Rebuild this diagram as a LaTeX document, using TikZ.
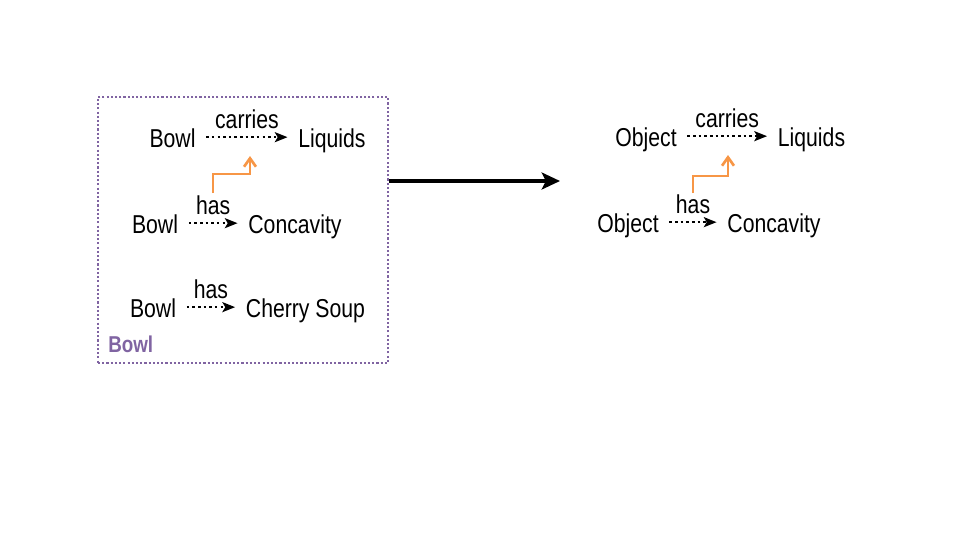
\documentclass[tikz,border=0pt]{standalone}
\usepackage{fontspec}
\setmainfont{Liberation Sans}[FakeStretch=0.82]
\usetikzlibrary{arrows.meta,fit}
\definecolor{framepurple}{HTML}{8064A2}
\definecolor{liftorange}{HTML}{F79646}
\tikzset{
  word/.style={font=\fontsize{18.4}{22}\selectfont, inner ysep=0pt,
    inner xsep=7.5pt, text height=14pt, text depth=0pt, anchor=base},
  rel/.style={line width=1.8pt, dash pattern=on 1.8pt off 2.2pt,
    -{Stealth[length=9pt,width=7pt,inset=2pt]}},
  rellabel/.style={font=\fontsize{18.4}{22}\selectfont, inner sep=0pt, above=5pt},
  lift/.style={draw=liftorange, line width=1.9pt,
    -{Straight Barb[length=6pt,width=8.5pt]}},
  frame/.style={draw=framepurple, line width=1.7pt,
    dash pattern=on 1.5pt off 1.5pt, inner sep=0pt},
  bigarrow/.style={line width=3pt, -{Stealth[length=13pt,width=12pt,inset=3pt]}}
}
\begin{document}
\begin{tikzpicture}[x=0.025cm,y=-0.025cm]
  \useasboundingbox (0,0) rectangle (960,540);
  % left: the bowl facts
  \node[frame, fit={(98,97) (388,363)}] (box) {};
  \node[anchor=base west, inner sep=0pt, text=framepurple,
    font=\fontsize{16.3}{19}\selectfont\bfseries] (boxname) at (108,352) {Bowl};
  \node[word] (bowlA) at (172.5,147) {Bowl};
  \node[word] (liqA) at (332,147) {Liquids};
  \node[word] (bowlB) at (155,233) {Bowl};
  \node[word] (concB) at (295,233) {Concavity};
  \node[word] (bowlC) at (153,317) {Bowl};
  \node[word] (soupC) at (305.5,317) {Cherry Soup};
  \draw[rel] (bowlA) -- node[rellabel] {carries} (liqA);
  \draw[rel] (bowlB) -- node[rellabel] {has} (concB);
  \draw[rel] (bowlC) -- node[rellabel] {has} (soupC);
  \coordinate (riseL) at (213,193);
  \coordinate (tipL) at (250,156);
  \draw[lift] (riseL) -- ++(0,-19) -| (tipL);
  % generalise
  \coordinate (go) at (560,181);
  \draw[bigarrow] (box.east |- go) -- (go);
  % right: the object facts
  \node[word] (objA) at (646,146) {Object};
  \node[word] (liqR) at (811.5,146) {Liquids};
  \node[word] (objB) at (628,232) {Object};
  \node[word] (concR) at (774,232) {Concavity};
  \draw[rel] (objA) -- node[rellabel] {carries} (liqR);
  \draw[rel] (objB) -- node[rellabel] {has} (concR);
  \coordinate (riseR) at (693,193);
  \coordinate (tipR) at (728,155);
  \draw[lift] (riseR) -- ++(0,-17) -| (tipR);
\end{tikzpicture}
\end{document}
